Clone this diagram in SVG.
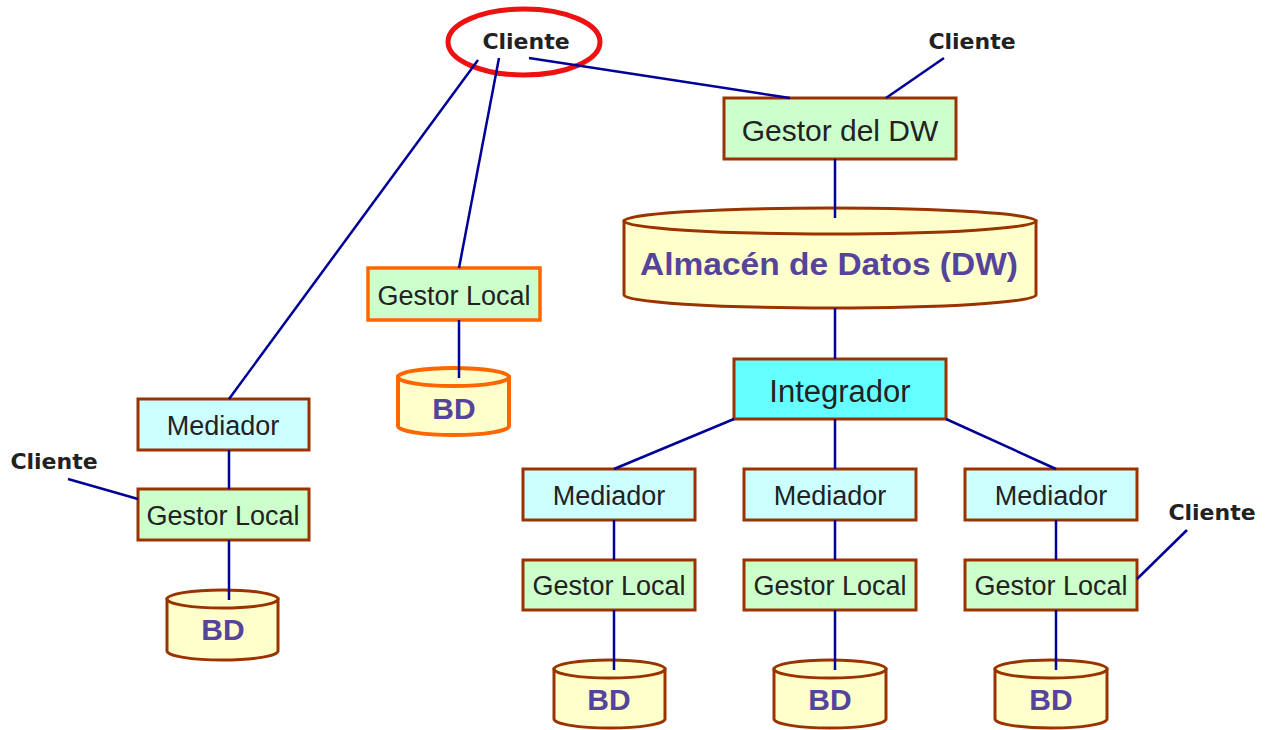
<svg xmlns="http://www.w3.org/2000/svg" width="1265" height="730" viewBox="0 0 1265 730">
  <style>
    .box { stroke: #993300; stroke-width: 3; }
    .gestor { fill: #CCFFCC; }
    .med { fill: #CCFFFF; }
    .integ { fill: #66FFFF; }
    .orange { stroke: #FF6600; stroke-width: 3.5; }
    .cyl { fill: #FFFFCC; stroke: #993300; stroke-width: 3; }
    .cyl-o { fill: #FFFFCC; stroke: #FF6600; stroke-width: 4; }
    .lbl { font-family: "Liberation Sans", Arial, sans-serif; fill: #222222; text-anchor: middle; }
    .db { font-family: "Liberation Sans", Arial, sans-serif; font-weight: bold; fill: #56449B; text-anchor: middle; }
    .cli { font-family: "DejaVu Sans", Verdana, sans-serif; font-weight: bold; font-size: 22px; fill: #222222; text-anchor: middle; }
    .link { stroke: #000099; stroke-width: 2.5; fill: none; }
  </style>

  <!-- main client -->
  <g id="cliente-main">
    <ellipse cx="524" cy="42" rx="76" ry="33" fill="none" stroke="#EE1111" stroke-width="5"/>
    <text class="cli" x="526" y="49">Cliente</text>
  </g>

  <!-- data warehouse manager -->
  <g id="gestor-dw">
    <rect class="box gestor" x="724" y="98" width="232" height="61"/>
    <text class="lbl" x="840" y="141" font-size="30">Gestor del DW</text>
  </g>
  <g id="cliente-dw">
    <text class="cli" x="972" y="49">Cliente</text>
  </g>

  <!-- data warehouse store -->
  <g id="almacen">
    <path class="cyl" d="M624 221 L624 295 A206 13 0 0 0 1036 295 L1036 221 Z"/>
    <ellipse class="cyl" cx="830" cy="221" rx="206" ry="13"/>
    <text class="db" x="829" y="275" font-size="31" textLength="378" lengthAdjust="spacingAndGlyphs">Almacén de Datos (DW)</text>
  </g>

  <!-- integrator -->
  <g id="integrador">
    <rect class="box integ" x="734" y="359" width="212" height="60"/>
    <text class="lbl" x="840" y="402" font-size="31">Integrador</text>
  </g>

  <!-- left branch -->
  <g id="mediador-izq">
    <rect class="box med" x="138" y="399" width="171" height="51"/>
    <text class="lbl" x="223" y="435" font-size="27">Mediador</text>
  </g>
  <g id="gestor-izq">
    <rect class="box gestor" x="138" y="489" width="171" height="51"/>
    <text class="lbl" x="223" y="525" font-size="27">Gestor Local</text>
  </g>
  <g id="bd-izq">
    <path class="cyl" d="M167 599 L167 651 A55.5 9 0 0 0 278 651 L278 599 Z"/>
    <ellipse class="cyl" cx="222.5" cy="599" rx="55.5" ry="9"/>
    <text class="db" x="223" y="640" font-size="30">BD</text>
  </g>
  <g id="cliente-izq">
    <text class="cli" x="54" y="469">Cliente</text>
  </g>

  <!-- middle branch -->
  <g id="gestor-centro">
    <rect class="box gestor orange" x="368" y="268" width="172" height="52"/>
    <text class="lbl" x="454" y="305" font-size="27">Gestor Local</text>
  </g>
  <g id="bd-centro">
    <path class="cyl-o" d="M398 377 L398 426 A55.5 9 0 0 0 509 426 L509 377 Z"/>
    <ellipse class="cyl-o" cx="453.5" cy="377" rx="55.5" ry="9"/>
    <text class="db" x="454" y="419" font-size="30">BD</text>
  </g>

  <!-- sources under the integrator -->
  <g id="mediador-1">
    <rect class="box med" x="523" y="469" width="172" height="51"/>
    <text class="lbl" x="609" y="505" font-size="27">Mediador</text>
  </g>
  <g id="gestor-1">
    <rect class="box gestor" x="523" y="560" width="172" height="50"/>
    <text class="lbl" x="609" y="595" font-size="27">Gestor Local</text>
  </g>
  <g id="bd-1">
    <path class="cyl" d="M554 669 L554 719 A55.5 9 0 0 0 665 719 L665 669 Z"/>
    <ellipse class="cyl" cx="609.5" cy="669" rx="55.5" ry="9"/>
    <text class="db" x="609" y="710" font-size="30">BD</text>
  </g>

  <g id="mediador-2">
    <rect class="box med" x="744" y="469" width="172" height="51"/>
    <text class="lbl" x="830" y="505" font-size="27">Mediador</text>
  </g>
  <g id="gestor-2">
    <rect class="box gestor" x="744" y="560" width="172" height="50"/>
    <text class="lbl" x="830" y="595" font-size="27">Gestor Local</text>
  </g>
  <g id="bd-2">
    <path class="cyl" d="M774 669 L774 719 A56 9 0 0 0 886 719 L886 669 Z"/>
    <ellipse class="cyl" cx="830" cy="669" rx="56" ry="9"/>
    <text class="db" x="830" y="710" font-size="30">BD</text>
  </g>

  <g id="mediador-3">
    <rect class="box med" x="965" y="469" width="172" height="51"/>
    <text class="lbl" x="1051" y="505" font-size="27">Mediador</text>
  </g>
  <g id="gestor-3">
    <rect class="box gestor" x="965" y="560" width="172" height="50"/>
    <text class="lbl" x="1051" y="595" font-size="27">Gestor Local</text>
  </g>
  <g id="bd-3">
    <path class="cyl" d="M995 669 L995 719 A56 9 0 0 0 1107 719 L1107 669 Z"/>
    <ellipse class="cyl" cx="1051" cy="669" rx="56" ry="9"/>
    <text class="db" x="1051" y="710" font-size="30">BD</text>
  </g>
  <g id="cliente-der">
    <text class="cli" x="1212" y="520">Cliente</text>
  </g>

  <!-- connectors -->
  <g id="connectors" class="link">
    <line x1="478" y1="60" x2="229" y2="399"/>
    <line x1="499" y1="58" x2="459" y2="268"/>
    <line x1="529" y1="58" x2="790" y2="98"/>
    <line x1="944" y1="58" x2="886" y2="98"/>
    <line x1="835" y1="159" x2="835" y2="218"/>
    <line x1="835" y1="308" x2="835" y2="359"/>
    <line x1="734" y1="419" x2="614" y2="469"/>
    <line x1="835" y1="419" x2="835" y2="469"/>
    <line x1="946" y1="419" x2="1056" y2="469"/>
    <line x1="614" y1="520" x2="614" y2="560"/>
    <line x1="835" y1="520" x2="835" y2="560"/>
    <line x1="1056" y1="520" x2="1056" y2="560"/>
    <line x1="614" y1="610" x2="614" y2="670"/>
    <line x1="835" y1="610" x2="835" y2="670"/>
    <line x1="1056" y1="610" x2="1056" y2="670"/>
    <line x1="1187" y1="530" x2="1137" y2="579"/>
    <line x1="229" y1="450" x2="229" y2="489"/>
    <line x1="229" y1="540" x2="229" y2="600"/>
    <line x1="68" y1="479" x2="138" y2="499"/>
    <line x1="459" y1="320" x2="459" y2="378"/>
  </g>
</svg>
